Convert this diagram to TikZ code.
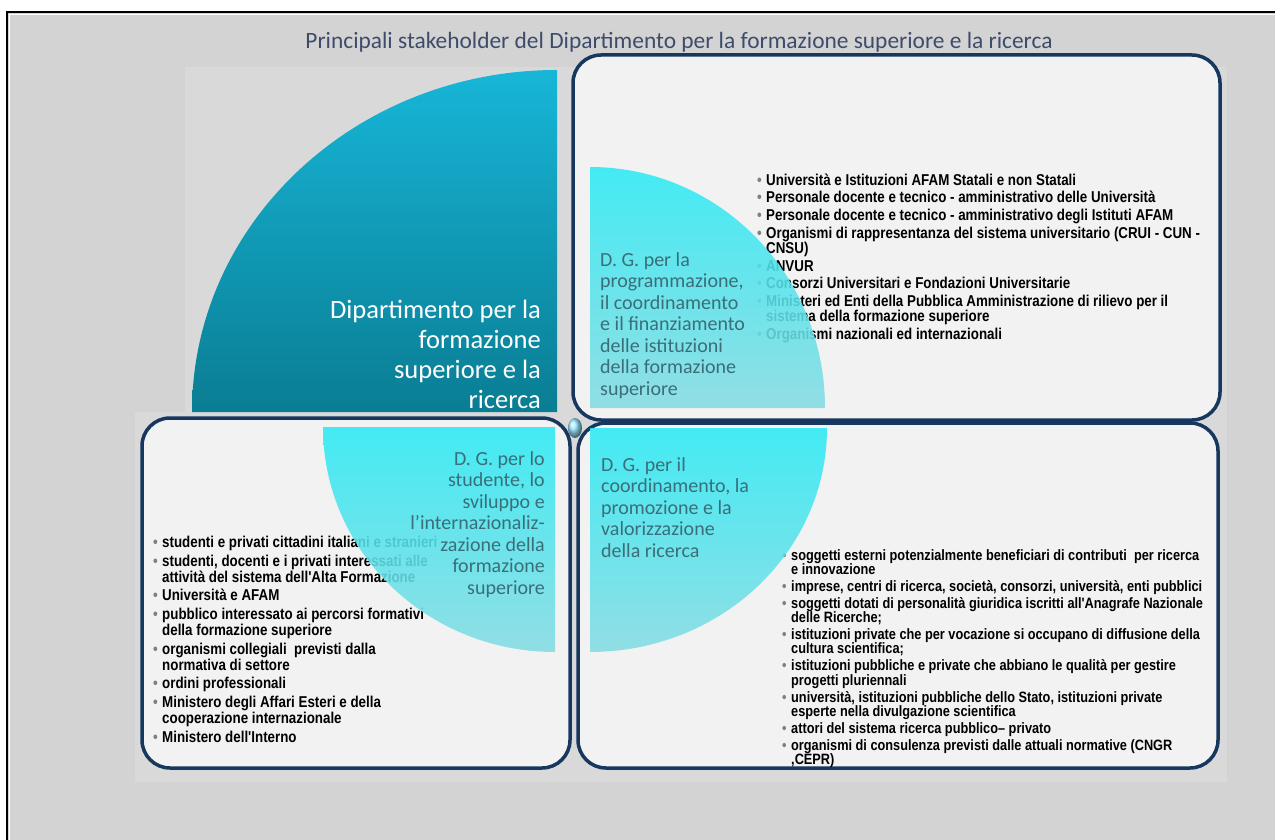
\documentclass[tikz,border=0pt]{standalone}
\usepackage{fontspec}
\setmainfont{Carlito}
\newfontfamily\narrowsans[FakeStretch=0.85]{Liberation Sans}
\usepackage{tikz}

\definecolor{bggray}{HTML}{D3D3D3}
\definecolor{panelgray}{HTML}{D9D9D9}
\definecolor{boxfill}{HTML}{F2F2F2}
\definecolor{boxline}{HTML}{17375E}
\definecolor{deeptop}{HTML}{17B6D8}
\definecolor{deepbot}{HTML}{0A7D93}
\definecolor{cyantop}{HTML}{2CEAF4}
\definecolor{cyanbot}{HTML}{84DCE3}
\definecolor{dgtext}{HTML}{3A6E78}
\definecolor{titletext}{HTML}{3E4C6A}

% bullet and hanging indent for the stakeholder lists
\newcommand{\sitem}{\makebox[9pt][l]{\textcolor{gray}{\textbullet}}}
\newcommand{\scont}{\makebox[9pt][l]{}}

\tikzset{
  box/.style={draw=boxline, line width=3.5pt, rounded corners=28pt, fill=boxfill},
  quarter/.style={top color=cyantop, bottom color=cyanbot, fill opacity=0.88},
  dglabel/.style={font=\fontsize{20}{21.5}\selectfont, text=dgtext, inner sep=0pt},
  stake/.style 2 args={font=\narrowsans\bfseries\fontsize{#1}{#2}\selectfont,
    execute at begin node={\lineskiplimit=-10pt},
    inner sep=0pt, anchor=north west, align=flush left}
}

\begin{document}
\begin{tikzpicture}[x=1pt,y=-1pt]
\useasboundingbox (0,0) rectangle (1275,840);
% background, frame and panels
\fill[bggray] (7,12) rectangle (1275,840);
\draw[line width=2pt] (7,840) -- (7,12) -- (1275,12);
\draw[white, line width=1.5pt] (9.5,840) -- (9.5,14.5) -- (1275,14.5);
\fill[panelgray] (185,67) rectangle (1227,412);
\fill[panelgray] (135,412) rectangle (1227,782);

\node[font=\fontsize{23.4}{26}\selectfont, text=titletext] (title) at (679,42)
  {Principali stakeholder del Dipartimento per la formazione superiore e la ricerca};

% the department
\shade[top color=deeptop, bottom color=deepbot] (557,412) -- (192,412)
  arc[start angle=180, end angle=270, x radius=365, y radius=342] -- cycle;
\node[font=\fontsize{26.5}{30}\selectfont, text=white, align=right, inner sep=0pt, anchor=north east]
  (dip) at (541,300) {Dipartimento per la\\formazione\\superiore e la\\ricerca};

% the three boxes
\draw[box] (573,55) rectangle (1220,420);
\draw[box] (142,418) rectangle (570,768);
\draw[box] (578,423) rectangle (1218,768);

\node[stake={15.7}{15.2}, text width=470pt] (listprog) at (757,173.5) {%
\sitem Università e Istituzioni AFAM Statali e non Statali\\[2.5pt]
\sitem Personale docente e tecnico - amministrativo delle Università\\[2.5pt]
\sitem Personale docente e tecnico - amministrativo degli Istituti AFAM\\[2.5pt]
\sitem Organismi di rappresentanza del sistema universitario (CRUI - CUN -\\
\scont CNSU)\\[2.5pt]
\sitem ANVUR\\[2.5pt]
\sitem Consorzi Universitari e Fondazioni Universitarie\\[2.5pt]
\sitem Ministeri ed Enti della Pubblica Amministrazione di rilievo per il\\
\scont sistema della formazione superiore\\[2.5pt]
\sitem Organismi nazionali ed internazionali};

\node[stake={15.7}{16.1}, text width=340pt] (liststud) at (153,536) {%
\sitem studenti e privati cittadini italiani e stranieri\\[2.5pt]
\sitem studenti, docenti e i privati interessati alle\\
\scont attività del sistema dell'Alta Formazione\\[2.5pt]
\sitem Università e AFAM\\[2.5pt]
\sitem pubblico interessato ai percorsi formativi\\
\scont della formazione superiore\\[2.5pt]
\sitem organismi collegiali\ \ previsti dalla\\
\scont normativa di settore\\[2.5pt]
\sitem ordini professionali\\[2.5pt]
\sitem Ministero degli Affari Esteri e della\\
\scont cooperazione internazionale\\[2.5pt]
\sitem Ministero dell'Interno};

\node[stake={15}{14.4}, text width=450pt] (listric) at (782,549) {%
\sitem soggetti esterni potenzialmente beneficiari di contributi\ \ per ricerca\\
\scont e innovazione\\[2.5pt]
\sitem imprese, centri di ricerca, società, consorzi, università, enti pubblici\\[2.5pt]
\sitem soggetti dotati di personalità giuridica iscritti all'Anagrafe Nazionale\\
\scont delle Ricerche;\\[2.5pt]
\sitem istituzioni private che per vocazione si occupano di diffusione della\\
\scont cultura scientifica;\\[2.5pt]
\sitem istituzioni pubbliche e private che abbiano le qualità per gestire\\
\scont progetti pluriennali\\[2.5pt]
\sitem università, istituzioni pubbliche dello Stato, istituzioni private\\
\scont esperte nella divulgazione scientifica\\[2.5pt]
\sitem attori del sistema ricerca pubblico– privato\\[2.5pt]
\sitem organismi di consulenza previsti dalle attuali normative (CNGR\\
\scont ,CEPR)};

% the three directorates
\shade[quarter] (590,408) -- (590,167)
  arc[start angle=270, end angle=360, x radius=235, y radius=241] -- cycle;
\shade[quarter] (555,427) -- (323,427)
  arc[start angle=180, end angle=90, x radius=232, y radius=225] -- cycle;
\shade[quarter] (590,428) -- (827,428)
  arc[start angle=0, end angle=90, x radius=237, y radius=224] -- cycle;

\node[dglabel, align=left, anchor=north west] (dgprog) at (600,252)
  {D. G. per la\\programmazione,\\il coordinamento\\e il finanziamento\\delle istituzioni\\della formazione\\superiore};
\node[dglabel, align=right, anchor=north east] (dgstud) at (545,451)
  {D. G. per lo\\studente, lo\\sviluppo e\\l'internazionaliz-\\zazione della\\formazione\\superiore};
\node[dglabel, align=left, anchor=north west] (dgric) at (601,457)
  {D. G. per il\\coordinamento, la\\promozione e la\\valorizzazione\\della ricerca};

% droplet in the middle
\shade[ball color=blue!25!cyan!40] (575,428) ellipse[x radius=7, y radius=10];
\end{tikzpicture}
\end{document}
